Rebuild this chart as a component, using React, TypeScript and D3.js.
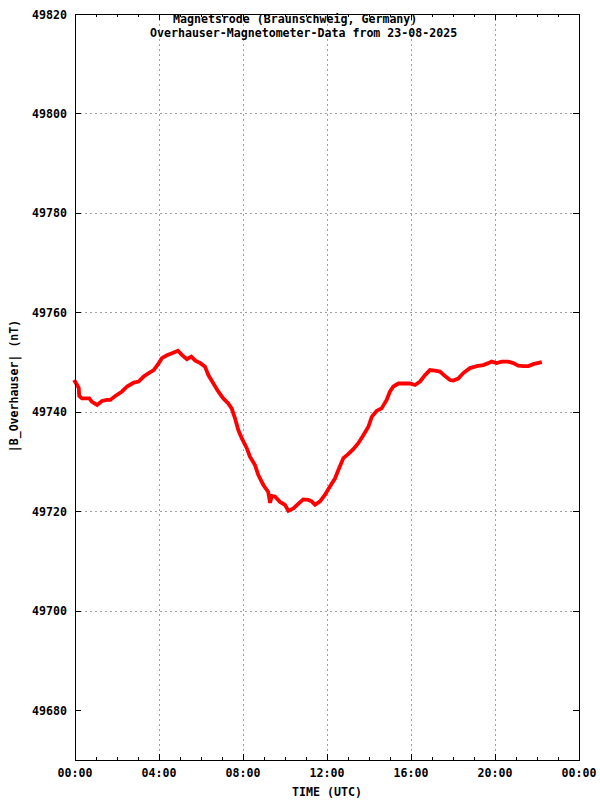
import React from "react";
import * as d3 from "d3";

const hours: number[] = [
  0.0, 0.1, 0.18, 0.2, 0.33, 0.57, 0.68, 0.81, 1.05, 1.29, 1.52, 1.68, 1.92, 2.24, 2.48, 2.8, 3.03, 3.27, 3.51, 3.75,
  3.99, 4.14, 4.38, 4.62, 4.9, 5.1, 5.33, 5.54, 5.73, 5.97, 6.19, 6.35, 6.59, 6.82, 7.06, 7.3, 7.46, 7.62, 7.78, 7.94,
  8.18, 8.33, 8.57, 8.73, 8.97, 9.2, 9.29, 9.37, 9.52, 9.76, 10.0, 10.16, 10.4, 10.63, 10.87, 11.11, 11.27, 11.43, 11.67, 11.9,
  12.14, 12.38, 12.54, 12.78, 13.01, 13.25, 13.49, 13.73, 13.97, 14.13, 14.37, 14.6, 14.84, 15.0, 15.16, 15.4, 15.71, 15.95, 16.19, 16.43,
  16.67, 16.9, 17.14, 17.38, 17.62, 17.86, 18.01, 18.25, 18.49, 18.81, 19.13, 19.44, 19.68, 19.84, 20.08, 20.32, 20.63, 20.87, 21.11, 21.35,
  21.59, 21.82, 22.14,
];

const fieldNT: number[] = [
  49746.1, 49745.4, 49744.8, 49743.2, 49742.7, 49742.7, 49742.7, 49742.0, 49741.4, 49742.2, 49742.4, 49742.4, 49743.2, 49744.1, 49745.1, 49745.9, 49746.1, 49747.1, 49747.8, 49748.4,
  49749.8, 49750.8, 49751.4, 49751.8, 49752.3, 49751.4, 49750.6, 49751.1, 49750.3, 49749.8, 49749.1, 49747.4, 49745.7, 49744.1, 49742.7, 49741.7, 49740.7, 49738.7, 49736.3, 49734.7,
  49732.7, 49731.0, 49729.3, 49727.3, 49725.3, 49723.9, 49721.7, 49723.1, 49723.0, 49721.9, 49721.3, 49720.1, 49720.6, 49721.5, 49722.4, 49722.3, 49722.0, 49721.3, 49722.0, 49723.3,
  49725.0, 49726.6, 49728.3, 49730.7, 49731.5, 49732.5, 49733.7, 49735.3, 49737.0, 49739.0, 49740.2, 49740.7, 49742.4, 49744.1, 49745.1, 49745.7, 49745.7, 49745.7, 49745.4, 49746.1,
  49747.4, 49748.4, 49748.3, 49748.1, 49747.2, 49746.4, 49746.3, 49746.7, 49747.8, 49748.8, 49749.2, 49749.4, 49749.8, 49750.1, 49749.8, 49750.1, 49750.1, 49749.8, 49749.3, 49749.2,
  49749.2, 49749.6, 49749.9,
];

const yTicks: number[] = [49680, 49700, 49720, 49740, 49760, 49780, 49800, 49820];
const xMajor: number[] = [0, 4, 8, 12, 16, 20, 24];
const xMajorLabels: string[] = ["00:00", "04:00", "08:00", "12:00", "16:00", "20:00", "00:00"];
const titleLines: string[] = [
  "Magnetsrode (Braunschweig, Germany)",
  "Overhauser-Magnetometer-Data from 23-08-2025",
];
const xTitle = "TIME (UTC)";
const yTitle = "|B_Overhauser| (nT)";

const W = 600;
const H = 800;
const L = 75;
const R = 579;
const T = 14;
const B = 760;
const FONT = "'DejaVu Sans Mono', 'Liberation Mono', monospace";

export default function App() {
  const x = d3.scaleLinear().domain([0, 24]).range([L, R]);
  const y = d3.scaleLinear().domain([49670, 49820]).range([B, T]);
  const line = d3
    .line<number>()
    .x((_, i) => x(hours[i]))
    .y((d) => y(d))
    .curve(d3.curveLinear);
  const minor = d3.range(0, 25, 1);

  const textStyle = { fontFamily: FONT, fontSize: 11.6, fontWeight: 700 as const, fill: "#000" };

  return (
    <svg
      width={W}
      height={H}
      style={{ position: "absolute", left: 0, top: 0, background: "#fff" }}
    >
      <rect x={0} y={0} width={W} height={H} fill="#fff" />
      {/* grid */}
      <g stroke="#a0a0a0" strokeWidth={1} strokeDasharray="2,3" shapeRendering="crispEdges">
        {xMajor.slice(1, -1).map((h) => (
          <line key={"gx" + h} x1={x(h) + 0.5} x2={x(h) + 0.5} y1={T} y2={B} />
        ))}
        {yTicks.slice(1, -1).map((v) => (
          <line key={"gy" + v} x1={L} x2={R} y1={y(v) + 0.5} y2={y(v) + 0.5} />
        ))}
      </g>
      {/* ticks */}
      <g stroke="#000" strokeWidth={1} shapeRendering="crispEdges">
        {minor.map((h) => {
          const len = h % 4 === 0 ? 6 : 3;
          const xx = Math.round(x(h)) + 0.5;
          return (
            <g key={"t" + h}>
              <line x1={xx} x2={xx} y1={B} y2={B - len} />
              <line x1={xx} x2={xx} y1={T} y2={T + len} />
            </g>
          );
        })}
        {yTicks.map((v) => {
          const yy = Math.round(y(v)) + 0.5;
          return (
            <g key={"yt" + v}>
              <line x1={L} x2={L + 6} y1={yy} y2={yy} />
              <line x1={R} x2={R - 6} y1={yy} y2={yy} />
            </g>
          );
        })}
      </g>
      {/* data */}
      <path
        d={line(fieldNT) || ""}
        fill="none"
        stroke="#ff0000"
        strokeWidth={3.8}
        strokeLinejoin="miter"
        strokeLinecap="square"
      />
      {/* frame */}
      <rect
        x={L + 0.5}
        y={T + 0.5}
        width={R - L}
        height={B - T}
        fill="none"
        stroke="#000"
        strokeWidth={1}
        shapeRendering="crispEdges"
      />
      {/* y tick labels */}
      {yTicks.map((v) => (
        <text key={"yl" + v} x={67} y={y(v) + 4.5} textAnchor="end" style={textStyle}>
          {v}
        </text>
      ))}
      {/* x tick labels */}
      {xMajor.map((h, i) => (
        <text key={"xl" + i} x={x(h)} y={777} textAnchor="middle" style={textStyle}>
          {xMajorLabels[i]}
        </text>
      ))}
      <text x={L + (R - L) / 2} y={796} textAnchor="middle" style={textStyle}>
        {xTitle}
      </text>
      <text
        transform={`translate(17.5, 386) rotate(-90)`}
        textAnchor="middle"
        style={textStyle}
      >
        {yTitle}
      </text>
      <text x={173} y={23} style={textStyle} xmlSpace="preserve">
        {titleLines[0]}
      </text>
      <text x={150} y={36.5} style={textStyle} xmlSpace="preserve">
        {titleLines[1]}
      </text>
    </svg>
  );
}
